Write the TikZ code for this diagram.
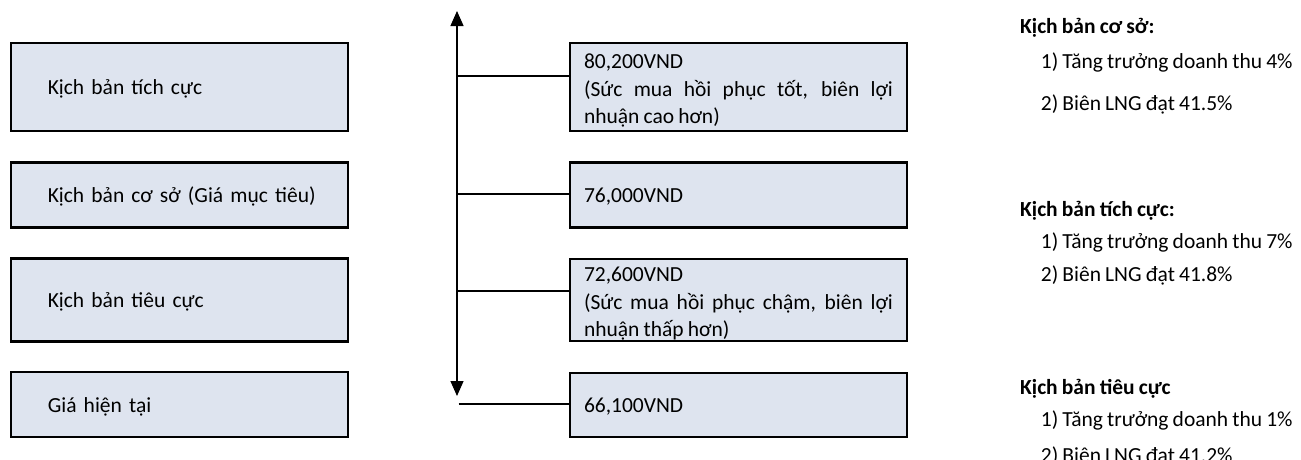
\documentclass[tikz,border=0pt]{standalone}
\usepackage{fontspec}
\setmainfont{Carlito}[WordSpace=0.85]
\usetikzlibrary{arrows.meta}
\definecolor{boxfill}{RGB}{222,228,239}
\hyphenpenalty=10000
\exhyphenpenalty=10000
\hbadness=10000
\hfuzz=100pt
\begin{document}
\begin{tikzpicture}[x=1pt,y=-1pt,
  txt/.style={font=\fontsize{21.5}{27.5}\selectfont},
  boxbase/.style={txt, draw=black, line width=2.2pt, fill=boxfill, inner ysep=0pt, minimum width=337pt},
  leftbox/.style={boxbase, text width=263pt, inner xsep=37pt, align=left,
    text height=21pt, text depth=5.5pt},
  rightbox/.style={boxbase, text width=309pt, inner xsep=14pt, align=justify},
  rightone/.style={rightbox, text height=20.5pt, text depth=6pt},
  side/.style={txt, anchor=base west, inner sep=0pt},
  sidehead/.style={side, font=\fontsize{21.5}{27.5}\selectfont\bfseries},
  conn/.style={draw=black, line width=2pt},
  axis/.style={draw=black, line width=1.3pt,
    {Triangle[width=13pt,length=15pt]}-{Triangle[width=13pt,length=15pt]}}
]
\useasboundingbox (0,0) rectangle (1301,459);
\clip (0,0) rectangle (1301,459);

% left boxes
\node[leftbox, minimum height=87.4pt] (L1) at (179.3,87) {\mbox{Kịch bản tích cực}};
\node[leftbox, minimum height=65pt] (L2) at (179.3,195) {\mbox{Kịch bản cơ sở (Giá mục tiêu)}};
\node[leftbox, minimum height=83pt] (L3) at (179.3,300) {\mbox{Kịch bản tiêu cực}};
\node[leftbox, minimum height=65pt] (L4) at (179.3,404.4) {\mbox{Giá hiện tại}};

% right boxes
\node[rightbox, minimum height=87.4pt] (R1) at (738.5,87) {\rule{0pt}{22.4pt}80,200VND\par(Sức mua hồi phục tốt, biên lợi nhuận cao hơn)};
\node[rightone, minimum height=65pt] (R2) at (738.5,195) {76,000VND};
\node[rightbox, minimum height=82pt] (R3) at (738.5,300) {\rule{0pt}{22.4pt}72,600VND\par(Sức mua hồi phục chậm, biên lợi nhuận thấp hơn)};
\node[rightone, minimum height=64pt] (R4) at (738.5,405) {66,100VND};

% axis
\coordinate (atop) at (457,11);
\coordinate (abot) at (457,396);
\draw[axis] (atop) -- (abot);

% connectors
\coordinate (ca) at (457.5,75.7);
\coordinate (cb) at (457.5,194);
\coordinate (cc) at (457.5,290.7);
\coordinate (cd) at (458.5,404.3);
\draw[conn] (ca) -- (ca -| R1.west);
\draw[conn] (cb) -- (cb -| R2.west);
\draw[conn] (cc) -- (cc -| R3.west);
\draw[conn] (cd) -- (cd -| R4.west);

% side notes
\node[sidehead] (h1) at (1020,33.3) {Kịch bản cơ sở:};
\node[side] (h1a) at (1040.7,68.3) {1) Tăng trưởng doanh thu 4\%};
\node[side] (h1b) at (1040.7,110.5) {2) Biên LNG đạt 41.5\%};
\node[sidehead] (h2) at (1020,216.7) {Kịch bản tích cực:};
\node[side] (h2a) at (1040.7,248.5) {1) Tăng trưởng doanh thu 7\%};
\node[side] (h2b) at (1040.7,281.7) {2) Biên LNG đạt 41.8\%};
\node[sidehead] (h3) at (1020,394) {Kịch bản tiêu cực};
\node[side] (h3a) at (1040.7,426.7) {1) Tăng trưởng doanh thu 1\%};
\node[side] (h3b) at (1040.7,462.5) {2) Biên LNG đạt 41.2\%};
\end{tikzpicture}
\end{document}
